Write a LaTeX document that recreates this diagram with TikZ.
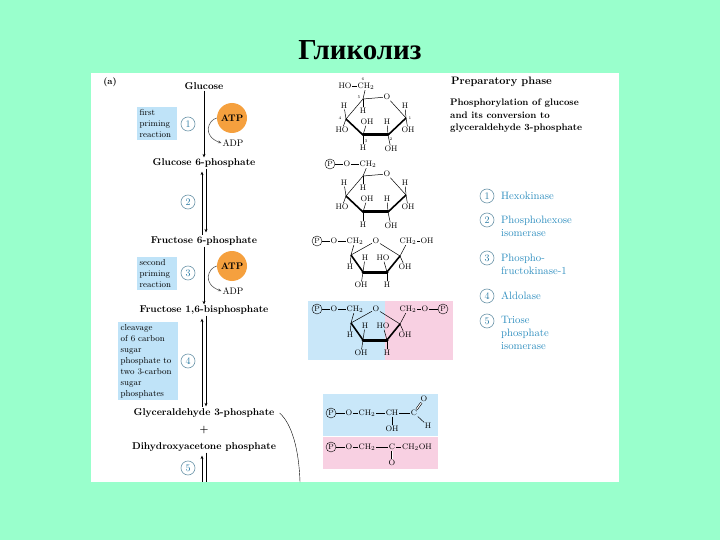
\documentclass[tikz,border=0pt]{standalone}
\usepackage{fontspec}
\newfontfamily\titlefont{Liberation Serif}
\usepackage{xcolor}
\usetikzlibrary{arrows.meta,positioning}
\definecolor{slide}{HTML}{99FFCC}
\definecolor{boxblue}{HTML}{BFE3F8}
\definecolor{pinkpanel}{HTML}{F8D0E2}
\definecolor{atporange}{HTML}{F5A03E}
\definecolor{enzblue}{HTML}{2F8FC0}
\definecolor{ringgray}{HTML}{6F98AC}

\begin{document}
\begin{tikzpicture}[x=1pt,y=-1pt,>={Stealth[length=3.5pt,width=3pt]},
 every node/.style={font=\fontsize{8.6}{10}\selectfont},
 chem/.style={inner sep=0.6pt,font=\fontsize{8}{9}\selectfont},
 num/.style={inner sep=0pt,font=\fontsize{4}{5}\selectfont},
 phos/.style={draw,circle,minimum size=10pt,inner sep=0pt,font=\fontsize{7.5}{8}\selectfont},
 met/.style={inner sep=1pt,font=\bfseries\fontsize{9.9}{10}\selectfont},
 atp/.style={circle,fill=atporange,minimum size=30pt,inner sep=0pt,font=\bfseries\fontsize{9.5}{10}\selectfont},
 adp/.style={inner sep=1pt,font=\fontsize{9.5}{10}\selectfont},
 stepno/.style={draw=ringgray,semithick,circle,minimum size=14pt,inner sep=0pt,text=enzblue!85!black,font=\fontsize{10}{10}\selectfont},
 note/.style={fill=boxblue,align=left,anchor=north west,inner sep=2.5pt,font=\fontsize{8.7}{10.9}\selectfont},
 enzyme/.style={anchor=west,align=left,inner sep=0pt,text=enzblue,font=\fontsize{10.7}{12.7}\selectfont},
 back/.style={line width=0.5pt},
 side/.style={line width=1.6pt},
 front/.style={line width=3pt}]
 \useasboundingbox (0,0) rectangle (720,540);
 \fill[slide] (0,0) rectangle (720,540);
 \fill[white] (91,73) rectangle (619,482);
 \node[font=\titlefont\bfseries\fontsize{29}{30}\selectfont] (title) at (360,50) {Гликолиз};
 \node[font=\bfseries\fontsize{9}{10}\selectfont] (parta) at (110,82) {(a)};

 % panels behind the structures
 \fill[boxblue!85!white] (308,301) rectangle (385,360);
 \fill[pinkpanel] (385,301) rectangle (453,360);
 \fill[boxblue!85!white] (323,394) rectangle (438,436);
 \fill[pinkpanel] (323,437) rectangle (438,469);

 % left column
 \node[met] (glc) at (204,86) {Glucose};
 \node[met] (g6p) at (204,163) {Glucose 6-phosphate};
 \node[met] (f6p) at (204,241) {Fructose 6-phosphate};
 \node[met] (fbp) at (204,310) {Fructose 1,6-bisphosphate};
 \node[met] (gap) at (204,413) {Glyceraldehyde 3-phosphate};
 \node[met] (plus) at (204,430) {+};
 \node[met] (dhap) at (204,447) {Dihydroxyacetone phosphate};
 \coordinate (bottom) at (204,482);
 \coordinate (curveend) at (300,482);

 \node[atp] (atpa) at (232,118) {ATP};
 \node[adp] (adpa) at (233,143) {ADP};
 \node[atp] (atpb) at (232,266) {ATP};
 \node[adp] (adpb) at (233,291) {ADP};

 \node[note,text width=35pt] (notea) at (137,107) {first\\priming\\reaction};
 \node[note,text width=35pt] (noteb) at (137,257) {second\\priming\\reaction};
 \node[note,text width=55pt] (notec) at (118,322) {cleavage\\of 6 carbon\\sugar\\phosphate to\\two 3-carbon\\sugar\\phosphates};

 \node[stepno] (sa) at (188,124) {1};
 \node[stepno] (sb) at (188,202) {2};
 \node[stepno] (sc) at (188,273) {3};
 \node[stepno] (sd) at (188,361) {4};
 \node[stepno] (se) at (188,468) {5};

 \draw[->,thick] (glc)-- (g6p);
 \draw[->,thick] (f6p)-- (fbp);
 \draw[<-,thick,shorten <=3pt] ([xshift=-2pt]g6p.south)-- ([xshift=-2pt]f6p.north);
 \draw[->,thick,shorten >=3pt] ([xshift=2pt]g6p.south)-- ([xshift=2pt]f6p.north);
 \draw[<-,thick,shorten <=3pt] ([xshift=-2pt]fbp.south)-- ([xshift=-2pt]gap.north);
 \draw[->,thick,shorten >=1pt] ([xshift=2pt]fbp.south)-- ([xshift=2pt]gap.north);
 \draw[<-,thick,shorten <=3pt] ([xshift=-2pt]dhap.south)-- ([xshift=-2pt]bottom);
 \draw[thick] ([xshift=2pt]dhap.south)-- ([xshift=2pt]bottom);

 \draw[->,semithick,gray!70!black] (atpa.west) .. controls (208,120) and (202,136) .. (adpa.west);
 \draw[->,semithick,gray!70!black] (atpb.west) .. controls (208,268) and (202,284) .. (adpb.west);
 \draw[thin] ([xshift=4pt]gap.east) .. controls (292,424) and (299,450) .. (curveend);

 % right column
 \node[anchor=west,inner sep=0pt,font=\bfseries\fontsize{10.8}{10}\selectfont] (prep) at (451,82) {Preparatory phase};
 \node[anchor=north west,align=left,inner sep=0pt,font=\bfseries\fontsize{9.5}{12.4}\selectfont] (desc) at (450,99)
  {Phosphorylation of glucose\\and its conversion to\\glyceraldehyde 3-phosphate};
 \foreach \n/\y/\lab in {1/196/Hexokinase,2/226/Phosphohexose\\isomerase,3/264/Phospho-\\fructokinase-1,4/296/Aldolase,5/333/Triose\\phosphate\\isomerase}
  \node[enzyme] (enz\n) at (501,\y) {\lab};
 \foreach \n/\y in {1/196,2/220,3/258,4/296,5/321}
  \node[stepno] (key\n) at (487,\y) {\n};

 % six-membered rings
 \foreach \r/\dy in {a/0,b/77}{
  \coordinate (\r5) at (363,99+\dy);
  \coordinate (\r4) at (346,119+\dy);
  \coordinate (\r3) at (363,135+\dy);
  \coordinate (\r2) at (388,135+\dy);
  \coordinate (\r1) at (406,118+\dy);
  \node[chem] (\r o) at (387,97+\dy) {O};
  \node[chem] (\r h4) at (344,106+\dy) {H};
  \node[chem] (\r h5) at (363,111+\dy) {H};
  \node[chem] (\r h1) at (405,106+\dy) {H};
  \node[chem] (\r ho4) at (342,130+\dy) {HO};
  \node[chem] (\r oh3) at (367,122+\dy) {OH};
  \node[chem] (\r h2) at (387,122+\dy) {H};
  \node[chem] (\r oh1) at (408,130+\dy) {OH};
  \node[chem] (\r h3) at (363,148+\dy) {H};
  \node[chem] (\r oh2) at (391,149+\dy) {OH};
  \draw[back] (\r5)-- (\r o);
  \draw[back] (\r o)-- (\r1);
  \draw[back] (\r5)-- (\r4);
  \draw[side] (\r4)-- (\r3);
  \draw[side] (\r2)-- (\r1);
  \draw[front,line cap=round] (\r3)-- (\r2);
  \draw[back] (\r5)-- (\r h5);
  \draw[back] (\r4)-- (\r h4);
  \draw[back] (\r4)-- (\r ho4);
  \draw[back] (\r3)-- (\r oh3);
  \draw[back] (\r3)-- (\r h3);
  \draw[back] (\r2)-- (\r h2);
  \draw[back] (\r2)-- (\r oh2);
  \draw[back] (\r1)-- (\r h1);
  \draw[back] (\r1)-- (\r oh1);
 }
 \node[chem] (ahoa) at (345,86) {HO};
 \node[chem] (ach) at (366,86) {CH$_2$};
 \draw[back] (ahoa)-- (ach);
 \draw[back] (ach)-- (a5);
 \node[num] (n6) at (363,79) {6};
 \node[num] (n5) at (359,97) {5};
 \node[num] (n4) at (340,118) {4};
 \node[num] (n3) at (366,141) {3};
 \node[num] (n2) at (391,139) {2};
 \node[num] (n1) at (410,118) {1};

 \node[phos] (pb) at (330,164) {P};
 \node[chem] (obo) at (347,164) {O};
 \node[chem] (bch) at (368,164) {CH$_2$};
 \draw[back] (pb)-- (obo);
 \draw[back] (obo)-- (bch);
 \draw[back] (bch)-- (b5);

 % five-membered rings
 \foreach \r/\dy in {c/0,d/68}{
  \coordinate (\r5) at (351,255+\dy);
  \coordinate (\r4) at (363,272+\dy);
  \coordinate (\r3) at (387,272+\dy);
  \coordinate (\r2) at (400,256+\dy);
  \node[chem] (\r o) at (376,241+\dy) {O};
  \node[chem] (\r ol) at (334,241+\dy) {O};
  \node[chem] (\r chl) at (355,241+\dy) {CH$_2$};
  \node[chem] (\r chr) at (408,241+\dy) {CH$_2$};
  \node[chem] (\r h5) at (350,267+\dy) {H};
  \node[chem] (\r h4) at (365,258+\dy) {H};
  \node[chem] (\r ho3) at (383,258+\dy) {HO};
  \node[chem] (\r oh2) at (405,267+\dy) {OH};
  \node[chem] (\r oh4) at (361,285+\dy) {OH};
  \node[chem] (\r h3) at (387,285+\dy) {H};
  \node[phos] (\r pl) at (317,241+\dy) {P};
  \draw[back] (\r pl)-- (\r ol);
  \draw[back] (\r ol)-- (\r chl);
  \draw[back] (\r chl)-- (\r5);
  \draw[back] (\r chr)-- (\r2);
  \draw[back] (\r5)-- (\r o);
  \draw[back] (\r o)-- (\r2);
  \draw[side] (\r5)-- (\r4);
  \draw[side] (\r3)-- (\r2);
  \draw[front,line cap=round] (\r4)-- (\r3);
  \draw[back] (\r5)-- (\r h5);
  \draw[back] (\r4)-- (\r h4);
  \draw[back] (\r4)-- (\r oh4);
  \draw[back] (\r3)-- (\r ho3);
  \draw[back] (\r3)-- (\r h3);
  \draw[back] (\r2)-- (\r oh2);
 }
 \node[chem] (coh) at (427,241) {OH};
 \draw[back] (cchr)-- (coh);
 \node[chem] (dor) at (425,309) {O};
 \node[phos] (dpr) at (443,309) {P};
 \draw[back] (dchr)-- (dor);
 \draw[back] (dor)-- (dpr);

 % open chains
 \node[phos] (gp) at (331,413) {P};
 \node[chem] (go) at (349,413) {O};
 \node[chem] (gch) at (367,413) {CH$_2$};
 \node[chem] (gcc) at (392,413) {CH};
 \node[chem] (gc) at (414,413) {C};
 \node[chem] (gotop) at (424,399) {O};
 \node[chem] (ghh) at (428,426) {H};
 \node[chem] (goh) at (392,429) {OH};
 \draw[semithick] (gp)-- (go);
 \draw[semithick] (go)-- (gch);
 \draw[semithick] (gch)-- (gcc);
 \draw[semithick] (gcc)-- (gc);
 \draw[semithick,double,double distance=1pt] (gc)-- (gotop);
 \draw[back] (gc)-- (ghh);
 \draw[back] (gcc)-- (goh);

 \node[phos] (dp) at (331,447) {P};
 \node[chem] (dao) at (349,447) {O};
 \node[chem] (dach) at (367,447) {CH$_2$};
 \node[chem] (dac) at (392,447) {C};
 \node[chem] (daoh) at (417,447) {CH$_2$OH};
 \node[chem] (daco) at (392,463) {O};
 \draw[semithick] (dp)-- (dao);
 \draw[semithick] (dao)-- (dach);
 \draw[semithick] (dach)-- (dac);
 \draw[semithick] (dac)-- (daoh);
 \draw[semithick,double,double distance=1pt] (dac)-- (daco);
\end{tikzpicture}
\end{document}
